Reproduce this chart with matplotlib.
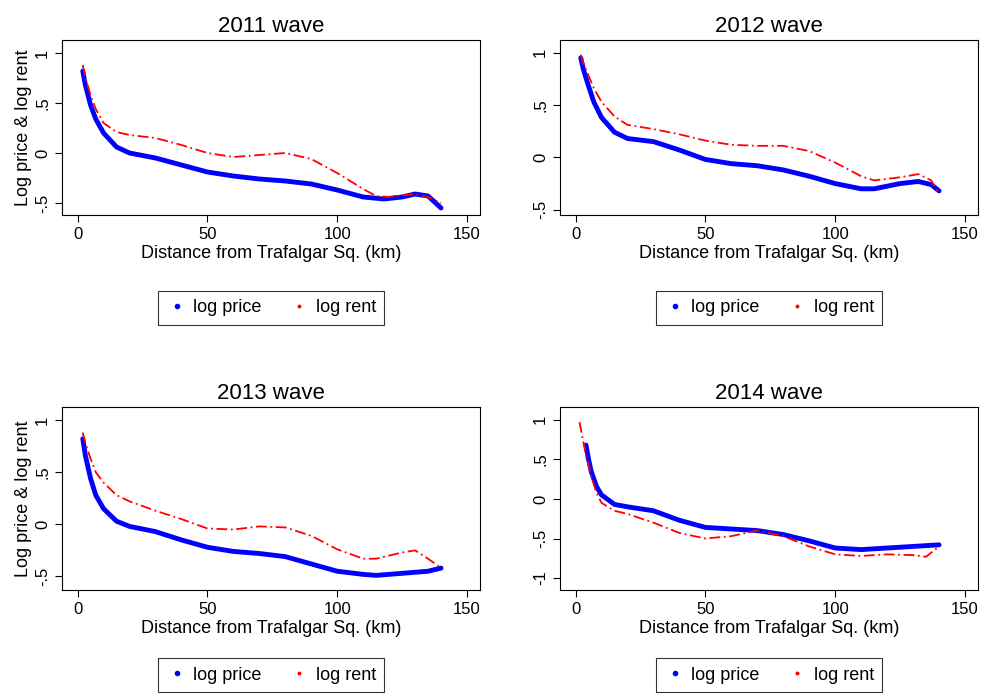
import matplotlib
matplotlib.use("Agg")
import matplotlib.pyplot as plt
from matplotlib.lines import Line2D

plt.rcParams['font.family'] = ['Liberation Sans', 'DejaVu Sans']

waves = ['2011 wave', '2012 wave', '2013 wave', '2014 wave']

price_km = [
    [2, 3, 5, 7, 10, 15, 20, 30, 40, 50, 60, 70, 80, 90, 100, 110, 118, 125, 130, 135, 140],
    [2, 3, 5, 7, 10, 15, 20, 30, 40, 50, 60, 70, 80, 90, 100, 110, 115, 125, 132, 137, 140],
    [2, 3, 5, 7, 10, 15, 20, 30, 40, 50, 60, 70, 80, 90, 100, 110, 115, 125, 135, 140],
    [4, 5, 6, 8, 10, 15, 20, 30, 40, 50, 60, 70, 80, 90, 100, 110, 120, 130, 140],
]
price_val = [
    [0.82, 0.68, 0.48, 0.34, 0.2, 0.06, 0, -0.05, -0.12, -0.19, -0.23, -0.26, -0.28, -0.31, -0.37, -0.44, -0.46, -0.44, -0.41, -0.43, -0.55],
    [0.95, 0.84, 0.68, 0.53, 0.38, 0.24, 0.18, 0.15, 0.07, -0.02, -0.06, -0.08, -0.12, -0.18, -0.25, -0.3, -0.3, -0.25, -0.23, -0.26, -0.32],
    [0.82, 0.66, 0.44, 0.28, 0.15, 0.03, -0.02, -0.07, -0.15, -0.22, -0.26, -0.28, -0.31, -0.38, -0.45, -0.48, -0.49, -0.47, -0.45, -0.42],
    [0.68, 0.5, 0.35, 0.16, 0.05, -0.07, -0.1, -0.15, -0.27, -0.36, -0.38, -0.4, -0.45, -0.53, -0.62, -0.64, -0.62, -0.6, -0.58],
]
rent_km = [
    [2, 3, 5, 7, 10, 15, 20, 30, 40, 50, 60, 70, 80, 90, 100, 110, 115, 120, 130, 135, 140],
    [2, 3, 5, 7, 10, 15, 20, 30, 40, 50, 60, 70, 80, 90, 100, 110, 115, 125, 132, 137, 140],
    [2, 3, 5, 7, 10, 15, 20, 30, 40, 50, 60, 70, 80, 90, 100, 110, 115, 125, 130, 135, 140],
    [1.5, 4, 6, 8, 10, 15, 20, 30, 40, 50, 60, 70, 80, 90, 100, 110, 120, 130, 135, 140],
]
rent_val = [
    [0.88, 0.75, 0.58, 0.44, 0.3, 0.21, 0.18, 0.15, 0.08, 0.0, -0.04, -0.02, 0, -0.06, -0.2, -0.36, -0.43, -0.44, -0.41, -0.44, -0.5],
    [0.98, 0.9, 0.78, 0.66, 0.53, 0.39, 0.31, 0.27, 0.22, 0.16, 0.12, 0.11, 0.11, 0.06, -0.05, -0.18, -0.22, -0.19, -0.16, -0.22, -0.35],
    [0.88, 0.78, 0.63, 0.5, 0.4, 0.28, 0.22, 0.13, 0.05, -0.04, -0.05, -0.02, -0.03, -0.11, -0.24, -0.33, -0.33, -0.27, -0.25, -0.33, -0.42],
    [0.97, 0.55, 0.3, 0.08, -0.05, -0.15, -0.19, -0.3, -0.43, -0.5, -0.47, -0.4, -0.47, -0.6, -0.7, -0.72, -0.7, -0.71, -0.73, -0.6],
]
ylims = [(-0.62, 1.13), (-0.55, 1.12), (-0.63, 1.125), (-1.15, 1.16)]
yticks = [[-0.5, 0, 0.5, 1]] * 3 + [[-1, -0.5, 0, 0.5, 1]]
ytick_labels = {-1: '-1', -0.5: '-.5', 0: '0', 0.5: '.5', 1: '1'}

W, H = 997, 695
boxes = [(62, 40, 480, 215), (560, 40, 978, 215), (62, 407, 480, 590), (560, 407, 978, 590)]
legend_y = [308, 308, 675, 675]

fig = plt.figure(figsize=(W / 100, H / 100), dpi=100)
for i in range(4):
    x0, y0, x1, y1 = boxes[i]
    ax = fig.add_axes([x0 / W, 1 - y1 / H, (x1 - x0) / W, (y1 - y0) / H])
    ax.plot(price_km[i], price_val[i], color='blue', lw=3.5, solid_capstyle='round')
    ax.plot(rent_km[i], rent_val[i], color='red', lw=1.3, linestyle=(0, (6, 2, 1, 2)))
    ax.set_xlim(-6, 155)
    ax.set_ylim(*ylims[i])
    ax.set_xticks([0, 50, 100, 150])
    ax.set_yticks(yticks[i])
    ax.set_yticklabels([ytick_labels[t] for t in yticks[i]], rotation=90, va='center')
    ax.tick_params(labelsize=12, length=5)
    ax.set_title(waves[i], fontsize=16, pad=6)
    ax.set_xlabel('Distance from Trafalgar Sq. (km)', fontsize=13, labelpad=2)
    if i % 2 == 0:
        ax.set_ylabel('Log price & log rent', fontsize=13, labelpad=2)
    handles = [Line2D([], [], color='blue', marker='o', ls='', ms=3),
               Line2D([], [], color='red', marker='o', ls='', ms=1.8)]
    leg = fig.legend(handles, ['log price', 'log rent'], loc='center',
                     bbox_to_anchor=((x0 + x1) / 2 / W, 1 - legend_y[i] / H), ncol=2, fontsize=13,
                     fancybox=False, edgecolor='black', columnspacing=1.5,
                     handletextpad=0.3, handlelength=1.2, borderpad=0.45)
    leg.get_frame().set_linewidth(0.8)

fig.savefig('out.png', dpi=100)
